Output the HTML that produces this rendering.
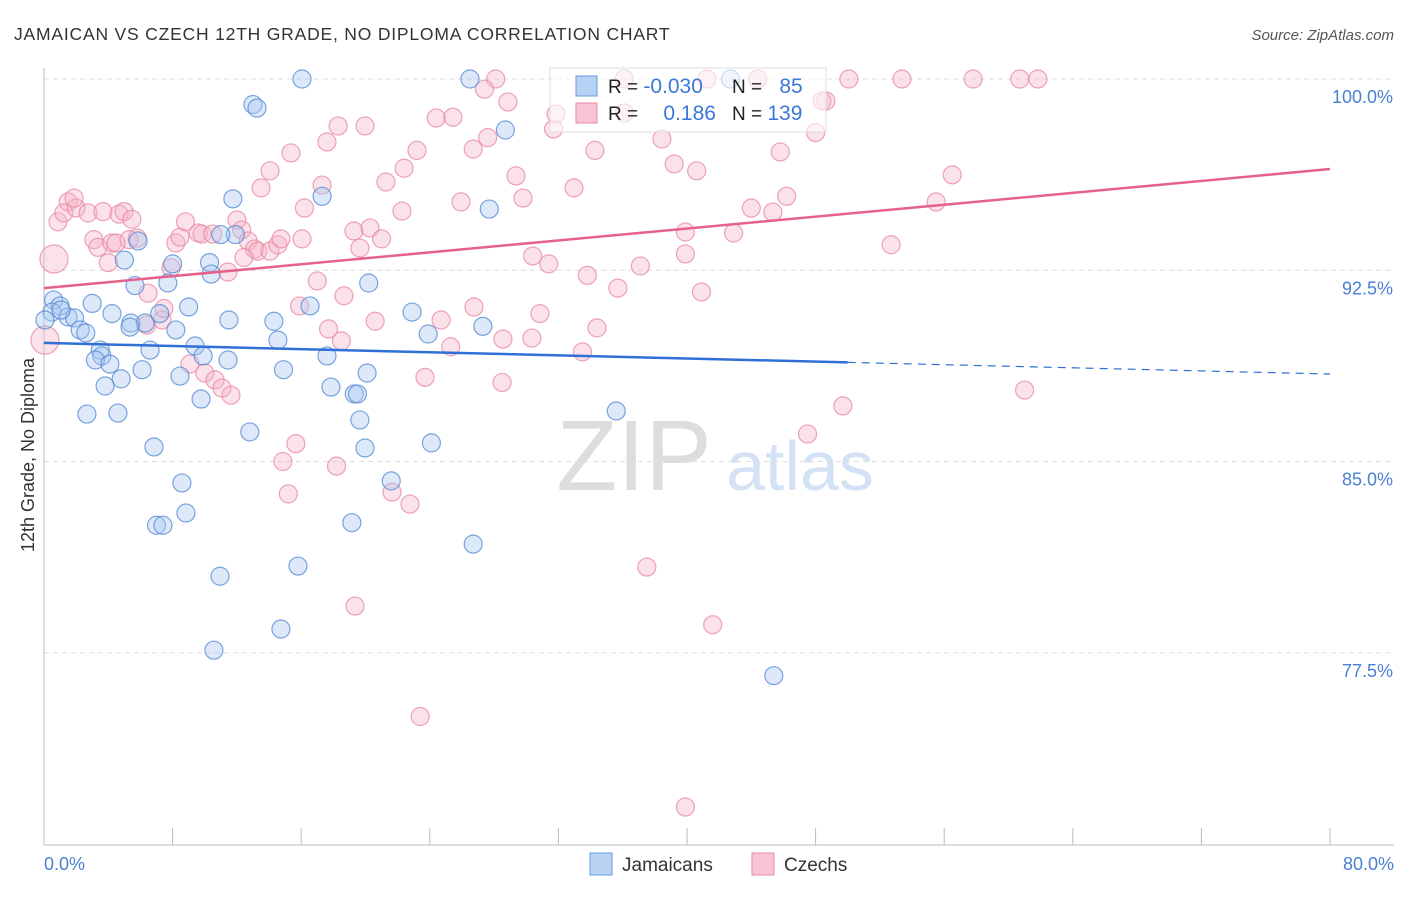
<!DOCTYPE html>
<html><head><meta charset="utf-8"><style>
body{margin:0;background:#fff;font-family:"Liberation Sans",sans-serif;}
svg text{font-family:"Liberation Sans",sans-serif;}
</style></head><body>
<svg width="1406" height="892" xmlns="http://www.w3.org/2000/svg">
<text x="14" y="40" font-size="17.5" fill="#333" letter-spacing="0.8">JAMAICAN VS CZECH 12TH GRADE, NO DIPLOMA CORRELATION CHART</text>
<text x="1394" y="40" font-size="15" fill="#555" font-style="italic" text-anchor="end">Source: ZipAtlas.com</text>
<text x="634" y="490" font-size="100" fill="#ddd" font-family="Liberation Serif,serif" text-anchor="middle">ZIP</text>
<text x="800" y="490" font-size="70" fill="#d3e2f5" text-anchor="middle">atlas</text>
<g id="grid"></g>
<g id="axes"></g>
<g id="pts"></g>
<g id="lines"></g>
<text x="34" y="455" font-size="18" fill="#333" text-anchor="middle" transform="rotate(-90 34 455)">12th Grade, No Diploma</text>
<text x="44" y="870" font-size="18" fill="#4a7fd4">0.0%</text>
<text x="1394" y="870" font-size="18" fill="#4a7fd4" text-anchor="end">80.0%</text>
<g>
<rect x="550" y="68" width="276" height="64" fill="#fff" fill-opacity="0.6" stroke="#ddd"/>
<rect x="576" y="76" width="21" height="20" fill="#b8d2f3" stroke="#6a9be0"/>
<rect x="576" y="103" width="21" height="20" fill="#f8c3d3" stroke="#e88aa8"/>
<text x="608" y="93" font-size="19" fill="#222">R = <tspan fill="#3b78d8" font-size="21">-0.030</tspan></text>
<text x="732" y="93" font-size="19" fill="#222">N = <tspan fill="#3b78d8" dx="12" font-size="21">85</tspan></text>
<text x="608" y="120" font-size="19" fill="#222">R = <tspan fill="#3b78d8" dx="20" font-size="21">0.186</tspan></text>
<text x="732" y="120" font-size="19" fill="#222">N = <tspan fill="#3b78d8" font-size="21">139</tspan></text>
</g>
<g>
<rect x="590" y="853" width="22" height="22" fill="#b8d2f3" stroke="#6a9be0"/>
<text x="622" y="871" font-size="19" fill="#333">Jamaicans</text>
<rect x="752" y="853" width="22" height="22" fill="#f8c3d3" stroke="#e88aa8"/>
<text x="784" y="871" font-size="19" fill="#333">Czechs</text>
</g>
</svg>
<script>
const yTicks=[100,92.5,85,77.5];
const yTickLabels=["100.0%","92.5%","85.0%","77.5%"];
const xTicks=[0,8,16,24,32,40,48,56,64,72,80];
const blueX=[16.05,26.5,42.7,13.0,13.25,28.7,11.75,17.3,27.7,5.85,11.9,11.0,5.0,10.3,8.0,10.4,20.2,5.66,7.7,0.6,1.0,3.0,0.5,1.5,1.9,2.25,2.6,4.23,5.4,6.3,5.35,7.2,9.0,11.5,14.3,16.55,22.9,27.3,23.9,14.55,8.2,6.6,9.4,9.9,11.45,3.5,3.6,3.2,4.1,6.1,8.46,4.8,3.8,14.9,17.6,20.1,17.85,19.3,19.5,9.77,2.67,4.6,19.65,35.6,12.8,6.84,19.97,24.1,8.58,21.6,8.83,7.0,7.4,19.15,26.7,15.8,10.95,14.74,10.57,45.4,1.06,0.06];
const blueY=[100,100,100,99.0,98.86,98.0,95.3,95.4,94.9,93.65,93.9,93.9,92.9,92.8,92.75,92.35,92.0,91.9,92.0,91.33,91.1,91.2,90.86,90.67,90.63,90.16,90.04,90.8,90.43,90.43,90.27,90.8,91.06,90.55,90.5,91.1,90.86,90.3,90.0,89.76,90.16,89.37,89.53,89.14,88.98,89.37,89.14,88.98,88.82,88.6,88.35,88.24,87.96,88.6,89.14,88.47,87.92,87.65,87.65,87.45,86.86,86.9,86.63,86.98,86.16,85.57,85.53,85.73,84.16,84.24,82.98,82.5,82.5,82.6,81.76,80.9,80.5,78.43,77.6,76.6,90.94,90.55];
const pinkX=[0.62,0.06,0.87,1.5,1.24,2.0,2.74,3.67,4.67,4.98,5.47,3.1,3.36,4.23,5.3,5.8,4.0,8.2,8.46,9.6,9.83,8.8,10.5,12.0,12.3,12.7,13.1,13.3,14.06,14.55,12.44,13.5,14.06,15.36,16.2,17.3,17.6,18.3,19.97,21.27,22.27,22.4,23.2,24.4,25.44,26.7,27.6,28.1,27.4,28.86,25.94,29.36,29.8,31.7,31.85,34.27,32.97,36.1,36.1,38.44,39.2,40.6,39.9,41.24,44.4,45.8,46.2,48.0,48.4,48.64,50.07,53.37,57.8,60.7,61.83,56.5,55.5,52.7,44.0,45.34,42.9,16.05,14.74,19.28,20.28,21.0,19.65,17.0,18.66,20.6,15.9,17.7,18.5,24.7,25.3,26.75,28.55,30.35,30.85,31.4,30.4,33.8,35.7,37.1,34.4,33.5,40.9,23.7,28.5,39.9,9.08,10.0,10.64,11.07,11.63,6.4,7.34,6.47,7.46,7.9,11.44,15.67,14.86,15.2,18.2,21.65,22.77,19.35,23.4,37.5,41.6,39.9,47.5,49.7,61.0,1.87,4.48];
const pinkY=[92.94,89.76,94.4,95.18,94.75,94.94,94.75,94.8,94.7,94.8,94.5,93.7,93.4,93.57,93.7,93.76,92.8,93.57,93.8,93.96,93.92,94.4,93.92,94.47,94.08,93.65,93.33,93.25,93.25,93.5,93.0,95.73,96.4,97.1,94.94,95.84,97.53,98.16,98.16,95.96,94.82,96.5,97.2,98.47,98.5,97.25,97.7,100,99.6,99.1,95.18,96.2,95.33,98.04,98.63,97.2,95.73,100,98.67,97.65,96.67,96.4,93.14,100,100,97.14,95.4,97.9,99.14,99.14,100,100,100,100,100,96.24,95.18,93.5,94.94,94.78,93.96,93.73,93.73,94.04,94.16,93.73,93.37,92.08,91.5,90.5,91.1,90.2,89.73,90.55,89.5,91.06,89.8,89.84,90.8,92.75,93.06,92.3,91.8,92.67,90.24,89.3,91.65,88.3,88.1,94.0,88.82,88.47,88.2,87.88,87.6,90.35,90.55,91.6,91.0,92.6,92.43,85.7,85.0,83.73,84.82,83.8,83.33,79.33,75.0,80.86,78.6,71.45,86.08,87.18,87.8,95.33,93.57];
const blueTrend=[89.65,88.43];
const pinkTrend=[91.8,96.47];
const NS="http://www.w3.org/2000/svg";
function sx(v){return 44+v/80*1286;}
function sy(v){return 79+(100-v)*25.5;}
function mk(tag,attrs,parent){const e=document.createElementNS(NS,tag);for(const k in attrs)e.setAttribute(k,attrs[k]);parent.appendChild(e);return e;}
const grid=document.getElementById('grid'),axes=document.getElementById('axes'),pts=document.getElementById('pts'),lines=document.getElementById('lines');
yTicks.forEach((t,i)=>{
 const l=mk('line',{x1:44,x2:1394,y1:sy(t),y2:sy(t),stroke:'#ddd','stroke-dasharray':'5,4'},grid);
 
 
 const tx=mk('text',{x:1393,y:sy(t)+24,'font-size':18,fill:'#4a7fd4','text-anchor':'end'},grid);
 tx.textContent=yTickLabels[i];
 
 
});
const ya=mk('line',{x1:44,x2:44,y1:68,y2:845,stroke:'#bbb'},axes);


const xa=mk('line',{x1:44,x2:1394,y1:845,y2:845,stroke:'#bbb'},axes);


xTicks.forEach(t=>{
 const l=mk('line',{x1:sx(t),x2:sx(t),y1:828,y2:845,stroke:'#bbb'},axes);
 
 
});
function dot(x,y,r,fill,stroke,name){
 const c=mk('circle',{cx:sx(x),cy:sy(y),r:r,fill:fill,'fill-opacity':0.4,stroke:stroke,'stroke-opacity':0.75,'stroke-width':1.2},pts);
 
 
}
pinkX.forEach((x,i)=>dot(x,pinkY[i],i<2?14:9,'#f4b4c8','#e8869f','czech-point'));
blueX.forEach((x,i)=>dot(x,blueY[i],9,'#a9c8f0','#4f86d6','jamaican-point'));
const bl=mk('line',{x1:sx(0),y1:sy(blueTrend[0]),x2:sx(50),y2:sy(blueTrend[0]+(blueTrend[1]-blueTrend[0])*50/80),stroke:'#2f6fd6','stroke-width':2.5},lines);


const bd=mk('line',{x1:sx(50),y1:sy(blueTrend[0]+(blueTrend[1]-blueTrend[0])*50/80),x2:sx(80),y2:sy(blueTrend[1]),stroke:'#2f6fd6','stroke-width':1.2,'stroke-dasharray':'8,6'},lines);


const pl=mk('line',{x1:sx(0),y1:sy(pinkTrend[0]),x2:sx(80),y2:sy(pinkTrend[1]),stroke:'#e5608a','stroke-width':2.5},lines);


</script>
</body></html>
